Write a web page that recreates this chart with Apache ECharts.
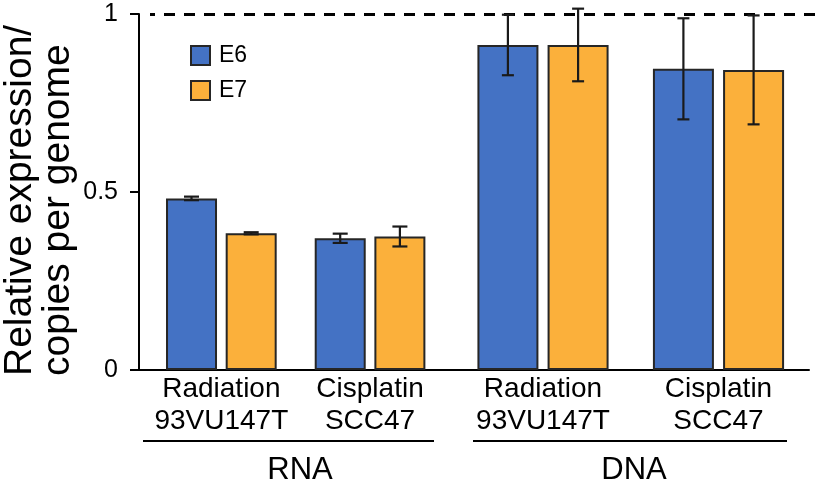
<!DOCTYPE html>
<html>
<head>
<meta charset="utf-8">
<script src="https://cdn.jsdelivr.net/npm/echarts@6/dist/echarts.min.js"></script>
<style>
html,body{margin:0;padding:0;background:#fff;}
#chart{width:826px;height:491px;}
</style>
</head>
<body>
<div id="chart"></div>
<script>
// ---- data ----
const rnaCategories = ['Radiation\n93VU147T', 'Cisplatin\nSCC47'];
const dnaCategories = ['Radiation\n93VU147T', 'Cisplatin\nSCC47'];
const seriesNames = ['E6', 'E7'];
const rnaE6 = [0.482, 0.370];
const rnaE6Err = [0.005, 0.013];
const rnaE7 = [0.384, 0.375];
const rnaE7Err = [0.003, 0.028];
const dnaE6 = [0.913, 0.846];
const dnaE6Err = [0.085, 0.142];
const dnaE7 = [0.913, 0.843];
const dnaE7Err = [0.102, 0.153];
const yMin = 0, yMax = 1, yInterval = 0.5;
const refLineValue = 1;
const groupLabels = ['RNA', 'DNA'];
const yTitle = 'Relative expression/\ncopies per genome';

// ---- styles ----
const FONT = '"Liberation Sans", Arial, sans-serif';
const BLUE = '#4472C4';
const ORANGE = '#FBB03B';
const EDGE = '#262626';

function errData(means, errs, s) {
  return means.map((m, i) => [i, m, errs[i], s]);
}
function errRenderer(offset, capW) {
  return function (params, api) {
    const c = api.value(0), m = api.value(1), e = api.value(2), s = api.value(3);
    const top = api.coord([c, m + e]);
    const bot = api.coord([c, m - e]);
    const x = top[0] + (s === 0 ? -offset : offset);
    const st = { stroke: '#1a1a1a', lineWidth: 2.2 };
    return {
      type: 'group',
      children: [
        { type: 'line', shape: { x1: x, y1: top[1], x2: x, y2: bot[1] }, style: st },
        { type: 'line', shape: { x1: x - capW / 2, y1: top[1], x2: x + capW / 2, y2: top[1] }, style: st },
        { type: 'line', shape: { x1: x - capW / 2, y1: bot[1], x2: x + capW / 2, y2: bot[1] }, style: st }
      ]
    };
  };
}

const chart = echarts.init(document.getElementById('chart'), null, { renderer: 'canvas' });

const hiddenY = (gi) => ({ gridIndex: gi, type: 'value', min: yMin, max: yMax, show: false });
const catAxis = (gi, data) => ({
  gridIndex: gi, type: 'category', data: data,
  axisLine: { show: false }, axisTick: { show: false },
  axisLabel: { show: true, color: '#000', fontFamily: FONT, fontSize: 28, lineHeight: 31.5, margin: 4, interval: 0 }
});

const option = {
  animation: false,
  backgroundColor: '#fff',
  grid: [
    { left: 139, right: 17, top: 14, bottom: 121 },
    { left: 147, width: 297.4, top: 14, bottom: 121 },
    { left: 455.25, width: 351, top: 14, bottom: 121 },
    { left: 150, right: 6, top: 14, bottom: 121 }
  ],
  legend: {
    data: seriesNames,
    orient: 'vertical',
    left: 190, top: 44,
    itemWidth: 19, itemHeight: 19, itemGap: 12,
    icon: 'rect',
    padding: 0,
    textStyle: { fontFamily: FONT, fontSize: 23, color: '#000', padding: [0, 0, 0, 4] }
  },
  xAxis: [
    { gridIndex: 0, type: 'value', min: 0, max: 1,
      axisLine: { show: true, lineStyle: { color: '#000', width: 2 } },
      axisTick: { show: false }, axisLabel: { show: false }, splitLine: { show: false } },
    catAxis(1, rnaCategories),
    catAxis(2, dnaCategories),
    { gridIndex: 3, type: 'value', min: 0, max: 1, show: false }
  ],
  yAxis: [
    { gridIndex: 0, type: 'value', min: yMin, max: yMax, interval: yInterval,
      axisLine: { show: true, lineStyle: { color: '#000', width: 2 } },
      axisTick: { show: true, length: 9, lineStyle: { color: '#000', width: 2 } },
      axisLabel: { color: '#000', fontFamily: FONT, fontSize: 25, margin: 21,
        formatter: (v) => String(v) },
      splitLine: { show: false } },
    hiddenY(1), hiddenY(2), hiddenY(3)
  ],
  series: [
    { name: 'E6', type: 'bar', xAxisIndex: 1, yAxisIndex: 1, data: rnaE6,
      barWidth: 51, barGap: '17%',
      itemStyle: { color: BLUE, borderColor: EDGE, borderWidth: 2 } },
    { name: 'E7', type: 'bar', xAxisIndex: 1, yAxisIndex: 1, data: rnaE7,
      barWidth: 51, barGap: '17%',
      itemStyle: { color: ORANGE, borderColor: EDGE, borderWidth: 2 } },
    { name: 'E6', type: 'bar', xAxisIndex: 2, yAxisIndex: 2, data: dnaE6,
      barWidth: 61, barGap: '15%',
      itemStyle: { color: BLUE, borderColor: EDGE, borderWidth: 2 } },
    { name: 'E7', type: 'bar', xAxisIndex: 2, yAxisIndex: 2, data: dnaE7,
      barWidth: 61, barGap: '15%',
      itemStyle: { color: ORANGE, borderColor: EDGE, borderWidth: 2 } },
    { type: 'custom', xAxisIndex: 1, yAxisIndex: 1, z: 10,
      renderItem: errRenderer(29.85, 15),
      data: errData(rnaE6, rnaE6Err, 0).concat(errData(rnaE7, rnaE7Err, 1)) },
    { type: 'custom', xAxisIndex: 2, yAxisIndex: 2, z: 10,
      renderItem: errRenderer(35.1, 12),
      data: errData(dnaE6, dnaE6Err, 0).concat(errData(dnaE7, dnaE7Err, 1)) },
    { type: 'line', xAxisIndex: 3, yAxisIndex: 3, data: [], silent: true,
      markLine: { silent: true, symbol: 'none', label: { show: false },
        lineStyle: { color: '#000', type: [11, 9], dashOffset: 6, width: 3 },
        data: [{ yAxis: refLineValue }] } }
  ],
  graphic: [
    { type: 'text', x: 1, y: 376, rotation: Math.PI / 2,
      style: { text: yTitle, font: '39px ' + FONT, fill: '#000', textAlign: 'left', textVerticalAlign: 'top', lineHeight: 38 } },
    { type: 'line', shape: { x1: 143, y1: 441, x2: 434, y2: 441 }, style: { stroke: '#000', lineWidth: 2 } },
    { type: 'line', shape: { x1: 473, y1: 441, x2: 787, y2: 441 }, style: { stroke: '#000', lineWidth: 2 } },
    { type: 'text', x: 300, y: 470,
      style: { text: groupLabels[0], font: '31px ' + FONT, fill: '#000', textAlign: 'center', textVerticalAlign: 'middle' } },
    { type: 'text', x: 634, y: 470,
      style: { text: groupLabels[1], font: '31px ' + FONT, fill: '#000', textAlign: 'center', textVerticalAlign: 'middle' } }
  ]
};
chart.setOption(option);
</script>
</body>
</html>
